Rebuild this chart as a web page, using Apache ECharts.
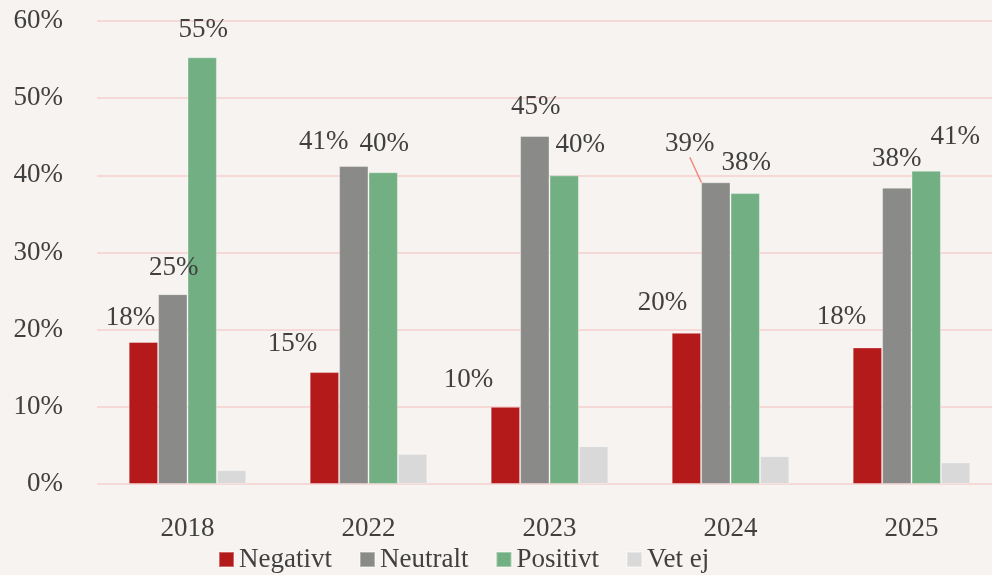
<!DOCTYPE html>
<html>
<head>
<meta charset="utf-8">
<script src="https://cdn.jsdelivr.net/npm/echarts@6/dist/echarts.min.js"></script>
<style>
  html, body { margin: 0; padding: 0; background: #f7f3f0; }
  #chart { width: 992px; height: 575px; }
</style>
</head>
<body>
<div id="chart"></div>
<script>
const years = ['2018', '2022', '2023', '2024', '2025'];
const negativt = [18.4, 14.5, 10.0, 19.6, 17.7];
const neutralt = [24.6, 41.2, 45.1, 39.1, 38.4];
const positivt = [55.3, 40.4, 40.0, 37.7, 40.6];
const vetEj = [1.8, 3.9, 4.9, 3.6, 2.8];
const yTicks = [0, 10, 20, 30, 40, 50, 60];

// manual label nudges (like the hand-placed labels in the original)
const shiftNeg = [[-13, -6], [-32, -10], [-37, -8], [-24, -11], [-26, -12]];
const shiftNeu = [[1, -8], [-30, -6], [1, -11], [-26, -20], [0, -10]];
const shiftPos = [[1, -9], [1, -10], [16, -12], [1, -12], [29, -15]];

const font = 'Liberation Serif';
const textColor = '#404040';

const chart = echarts.init(document.getElementById('chart'));

const makeSeries = (name, values, color, shift) => {
  let s = {
    name: name,
    type: 'bar',
    data: values,
    barGap: '0%',
    barCategoryGap: '35%',
    itemStyle: {
      color: color,
      borderColor: 'rgba(255,255,255,0.35)',
      borderWidth: 1
    }
  };
  if (shift) {
    s.label = {
      show: true,
      position: 'top',
      distance: 5,
      fontFamily: font,
      fontSize: 27,
      color: textColor,
      formatter: p => Math.round(p.value) + '%'
    };
    s.labelLayout = p => ({ dx: shift[p.dataIndex][0], dy: shift[p.dataIndex][1] });
  }
  return s;
};

const neutralSeries = makeSeries('Neutralt', neutralt, '#8a8a88', shiftNeu);
// leader line for the moved 2024 label
neutralSeries.data = neutralt.map((v, i) => i === 3 ? {
  value: v,
  labelLine: { show: true, lineStyle: { color: '#f08a80', width: 1.5 } }
} : v);

chart.setOption({
  backgroundColor: '#f7f3f0',
  animation: false,
  textStyle: { fontFamily: font },
  grid: {
    left: 97,
    top: 21,
    width: 905,
    height: 463,
    outerBoundsMode: 'none'
  },
  legend: {
    left: 213,
    top: 541,
    itemWidth: 15,
    itemHeight: 15,
    itemGap: 27,
    icon: 'rect',
    textStyle: { fontFamily: font, fontSize: 27, color: textColor },
    data: ['Negativt', 'Neutralt', 'Positivt', 'Vet ej']
  },
  xAxis: {
    type: 'category',
    data: years,
    axisLine: { show: false },
    axisTick: { show: false },
    axisLabel: { fontFamily: font, fontSize: 27, color: textColor, margin: 31 }
  },
  yAxis: {
    type: 'value',
    min: yTicks[0],
    max: yTicks[yTicks.length - 1],
    interval: 10,
    axisLine: { show: false },
    axisTick: { show: false },
    splitLine: { lineStyle: { color: '#f6cfcf', width: 1.5 } },
    axisLabel: {
      fontFamily: font,
      fontSize: 27,
      color: textColor,
      margin: 34,
      formatter: '{value}%'
    }
  },
  series: [
    makeSeries('Negativt', negativt, '#b41a1a', shiftNeg),
    neutralSeries,
    makeSeries('Positivt', positivt, '#72b083', shiftPos),
    makeSeries('Vet ej', vetEj, '#d9d9d9', null)
  ]
});
</script>
</body>
</html>
